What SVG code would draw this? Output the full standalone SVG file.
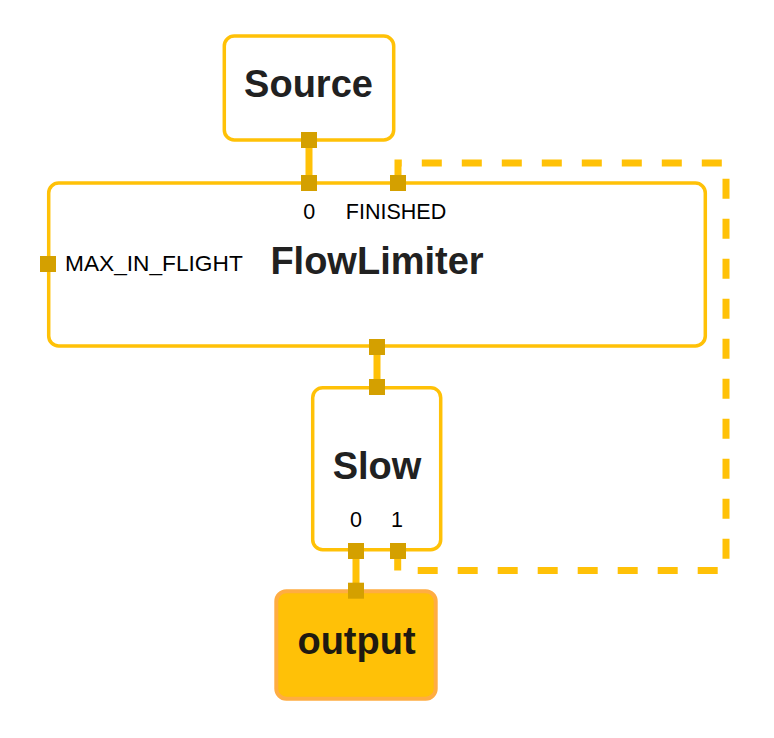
<svg xmlns="http://www.w3.org/2000/svg" width="774" height="738" viewBox="0 0 774 738">
  <style>
    .box { fill: #ffffff; stroke: #FFC107; stroke-width: 3.5; }
    .out { fill: #FFC107; stroke: #FFAD42; stroke-width: 4; }
    .title { font-family: "Liberation Sans", Arial, sans-serif; font-weight: bold; font-size: 38px; fill: #212121; text-anchor: middle; }
    .label { font-family: "Liberation Sans", Arial, sans-serif; font-size: 21.5px; fill: #000000; }
    .wide { font-size: 22.7px; }
    .port { fill: #D4A000; }
    .edge { fill: none; stroke: #FFC107; stroke-width: 7; }
    .dashed { stroke-dasharray: 20 20; }
  </style>
  <rect width="774" height="738" fill="#ffffff"/>

  <g id="connectors">
    <path class="edge" d="M309 140 L309 183"/>
    <path class="edge" d="M377 346 L377 387.5"/>
    <path class="edge" d="M356 551 L356 590.5"/>
    <path class="edge dashed" d="M397.7 550.5 L397.7 570.5 L726 570.5 L726 163 L398 163 L398 183"/>
  </g>

  <g id="node-source">
    <rect class="box" x="224.3" y="36" width="169.4" height="104" rx="10"/>
    <text class="title" x="308.5" y="97">Source</text>
    <rect class="port" x="301" y="132" width="16" height="16"/>
  </g>

  <g id="node-flowlimiter">
    <rect class="box" x="48.7" y="183" width="656.6" height="163" rx="10"/>
    <text class="title" x="377" y="274">FlowLimiter</text>
    <text class="label" x="309.2" y="218.5" text-anchor="middle">0</text>
    <text class="label" x="396" y="218.5" text-anchor="middle">FINISHED</text>
    <text class="label wide" x="65" y="271">MAX_IN_FLIGHT</text>
    <rect class="port" x="301" y="175" width="16" height="16"/>
    <rect class="port" x="390" y="175" width="16" height="16"/>
    <rect class="port" x="40" y="256" width="16" height="16"/>
    <rect class="port" x="369" y="339" width="16" height="16"/>
  </g>

  <g id="node-slow">
    <rect class="box" x="312.7" y="387.7" width="128" height="162" rx="10"/>
    <text class="title" x="377" y="479.3">Slow</text>
    <text class="label" x="356" y="526.7" text-anchor="middle">0</text>
    <text class="label" x="397" y="526.7" text-anchor="middle">1</text>
    <rect class="port" x="369" y="379" width="16" height="16"/>
    <rect class="port" x="348" y="543" width="16" height="16"/>
    <rect class="port" x="390" y="543" width="16" height="16"/>
  </g>

  <g id="node-output">
    <rect class="out" x="276.3" y="591.3" width="159.4" height="107.4" rx="10"/>
    <text class="title" x="356.5" y="654" style="fill:#1f1a10">output</text>
    <rect class="port" x="348" y="582.7" width="16" height="16"/>
  </g>
</svg>
